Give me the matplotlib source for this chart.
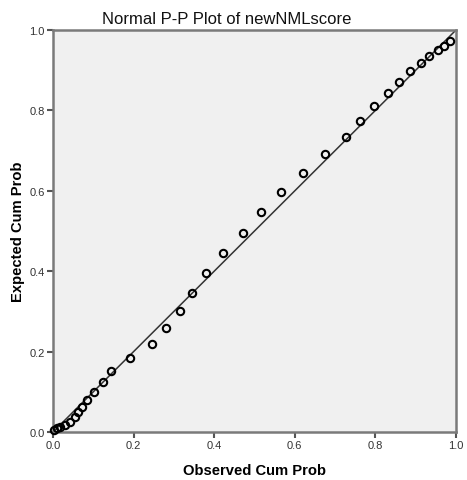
import matplotlib
matplotlib.use("Agg")
import matplotlib.pyplot as plt

plt.rcParams["font.family"] = ["Liberation Sans", "DejaVu Sans"]

# observed vs expected cumulative probabilities
observed = [0.003, 0.009, 0.017, 0.030, 0.042, 0.055, 0.061, 0.071, 0.085, 0.102,
            0.125, 0.143, 0.191, 0.245, 0.280, 0.315, 0.346, 0.380, 0.423, 0.472,
            0.515, 0.566, 0.620, 0.675, 0.726, 0.761, 0.796, 0.832, 0.858, 0.886,
            0.912, 0.934, 0.955, 0.969, 0.985]
expected = [0.006, 0.009, 0.012, 0.017, 0.026, 0.037, 0.049, 0.063, 0.079, 0.100,
            0.124, 0.152, 0.184, 0.220, 0.259, 0.302, 0.347, 0.396, 0.445, 0.494,
            0.547, 0.596, 0.644, 0.691, 0.734, 0.774, 0.810, 0.843, 0.871, 0.897,
            0.918, 0.935, 0.950, 0.961, 0.972]
ticks = [0.0, 0.2, 0.4, 0.6, 0.8, 1.0]

fig = plt.figure(figsize=(4.67, 4.81), dpi=100)
ax = fig.add_axes([53 / 467, 48 / 481, 403 / 467, 402 / 481])
ax.set_facecolor("#f0f0f0")

# reference line
ax.plot([0, 1], [0, 1], color="#333333", lw=1.1, zorder=2)
ax.plot(observed, expected, "o", ms=5.3, mfc="none", mec="black", mew=1.5,
        zorder=3, clip_on=False)

ax.set_xlim(0, 1)
ax.set_ylim(0, 1)
ax.set_xticks(ticks)
ax.set_yticks(ticks)
ax.set_xticklabels([f"{t:.1f}" for t in ticks])
ax.set_yticklabels([f"{t:.1f}" for t in ticks])
ax.tick_params(direction="out", length=4, width=1.5, color="#555555",
               labelsize=8, labelcolor="#333333", pad=2)

for s in ax.spines.values():
    s.set_color("#7a7a7a")
    s.set_linewidth(1.8)

# title is centred on the whole figure, not the axes
fig.text(227 / 467, 1 - 24 / 481, "Normal P-P Plot of newNMLscore",
         fontsize=12, ha="center", va="baseline", color="#111111")
ax.set_xlabel("Observed Cum Prob", fontsize=10.6, fontweight="bold", labelpad=9)
ax.set_ylabel("Expected Cum Prob", fontsize=10.6, fontweight="bold", labelpad=3)

fig.savefig("out.png", dpi=100)
